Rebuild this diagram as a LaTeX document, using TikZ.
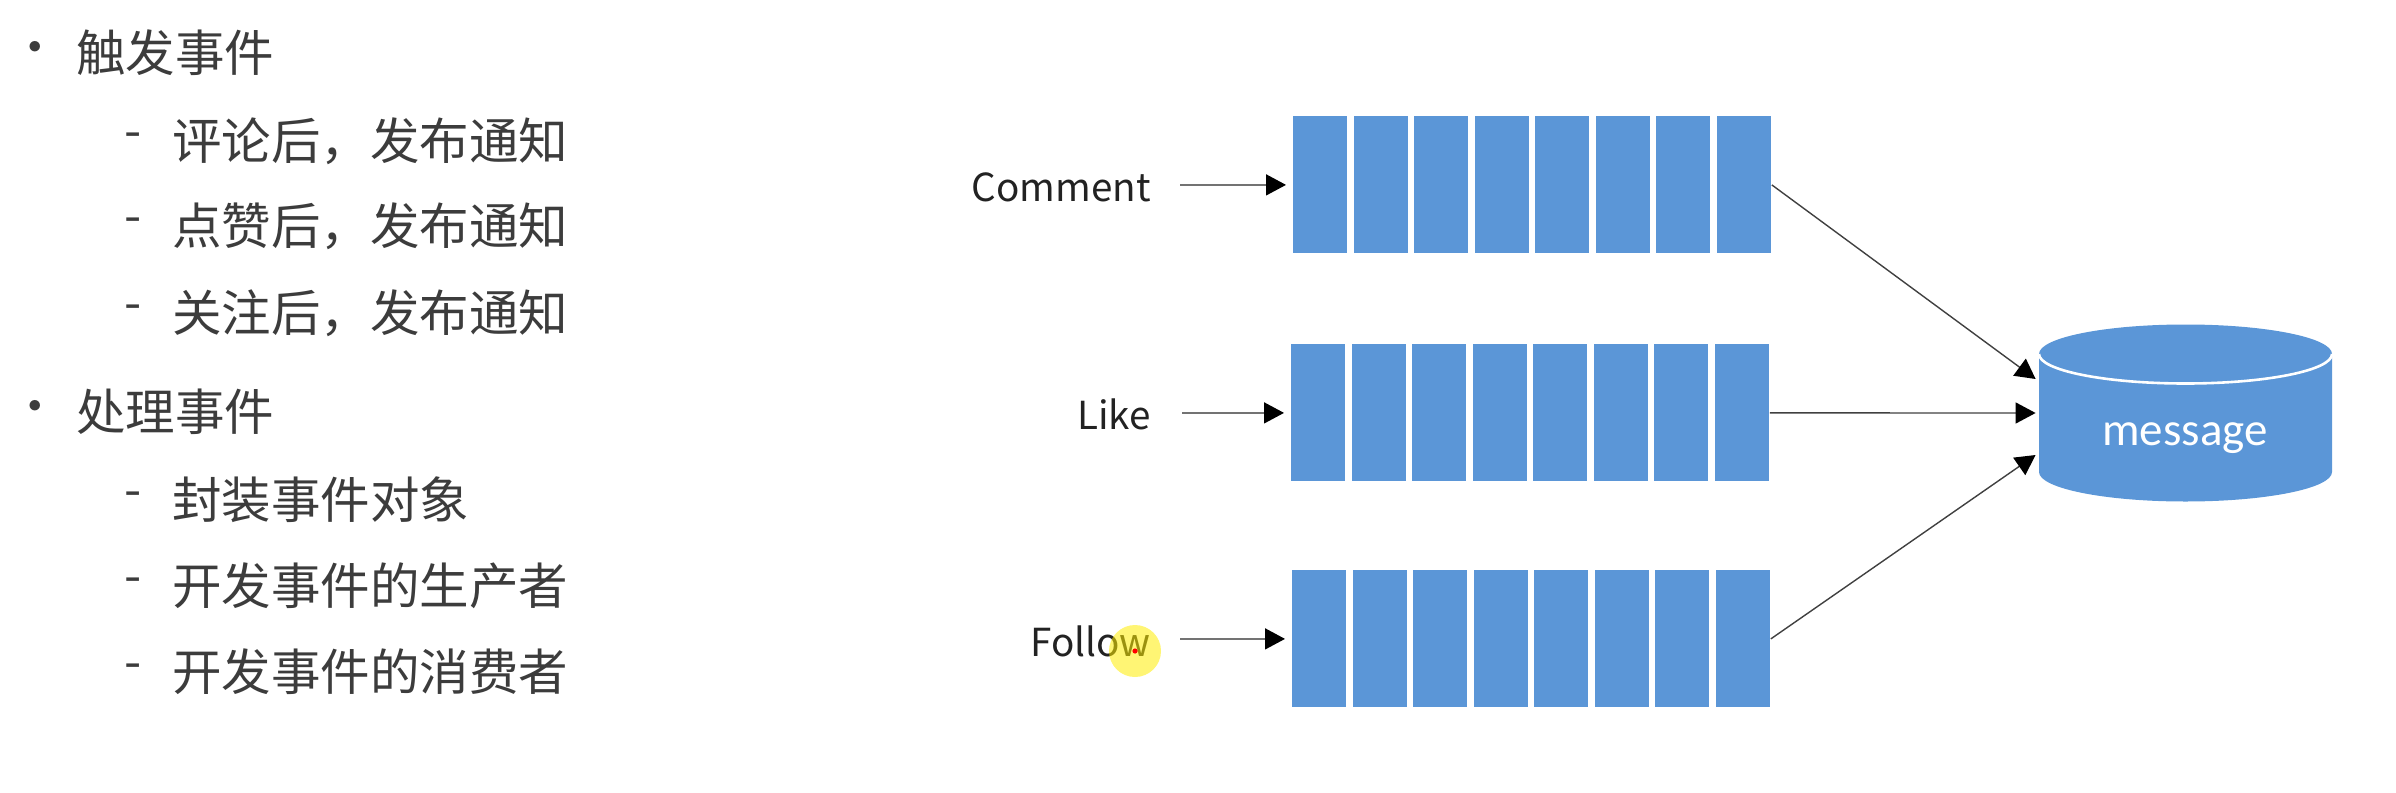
\documentclass[tikz,border=0pt]{standalone}
\usepackage{fontspec}
\setmainfont{Noto Sans CJK SC}
\newfontfamily\cjk{Noto Sans CJK SC}
\newfontfamily\carl{Carlito}
\usetikzlibrary{arrows.meta,calc}
\definecolor{qblue}{HTML}{5B96D7}
\definecolor{txt}{HTML}{3C3C3C}
\definecolor{lbltxt}{HTML}{222222}
\begin{document}
\begin{tikzpicture}[x=0.5pt,y=-0.5pt,
  item/.style={anchor=west, inner sep=0pt, text=txt, font=\cjk\fontsize{24.75pt}{30pt}\selectfont},
  bul/.style={anchor=center, inner sep=0pt, text=txt, font=\cjk\fontsize{24.75pt}{30pt}\selectfont},
  cell/.style={anchor=north west, inner sep=0pt, fill=qblue, draw=none, minimum width=27pt, minimum height=68.5pt},
  queue/.style={anchor=north west, inner sep=0pt, draw=none, minimum width=239pt, minimum height=68.5pt},
  lbl/.style={anchor=east, inner sep=0pt, text=lbltxt, font=\cjk\fontsize{19.3pt}{23pt}\selectfont},
  feed/.style={draw=black!55, line width=0.8pt, -{Triangle[length=10pt,width=10.5pt,color=black]}},
  link/.style={draw=black!75, line width=0.7pt, -{Triangle[length=10pt,width=10.5pt,color=black]}}
]
\useasboundingbox (0,0) rectangle (2396,792);

% left list
\node[bul] (b1) at (35,53) {•};
\node[item] (t1) at (76,53) {触发事件};
\node[bul] (d1) at (133,141) {-};
\node[item] (s1) at (172,141) {评论后，发布通知};
\node[bul] (d2) at (133,226) {-};
\node[item] (s2) at (172,226) {点赞后，发布通知};
\node[bul] (d3) at (133,313) {-};
\node[item] (s3) at (172,313) {关注后，发布通知};
\node[bul] (b2) at (35,412) {•};
\node[item] (t2) at (76,412) {处理事件};
\node[bul] (d4) at (133,500) {-};
\node[item] (s4) at (172,500) {封装事件对象};
\node[bul] (d5) at (133,586) {-};
\node[item] (s5) at (172,586) {开发事件的生产者};
\node[bul] (d6) at (133,672) {-};
\node[item] (s6) at (172,672) {开发事件的消费者};

% queues
\node[queue] (q1) at (1293,116) {};
\node[queue] (q2) at (1291,344) {};
\node[queue] (q3) at (1292,570) {};
\foreach \q/\qx/\qy in {q1/1293/116, q2/1291/344, q3/1292/570}{
  \foreach \i in {0,...,7}{
    \node[cell] (\q c\i) at ({\qx+\i*60.5},\qy) {};
  }
}

% labels
\node[lbl] (cm) at (1151,187) {Comment};
\node[lbl] (lk) at (1151,414) {Like};
\node[lbl] (fw) at (1151,641) {Follow};

\draw[feed, shorten <=14.5pt, shorten >=3.5pt] (cm.east |- q1.west) -- (q1.west);
\draw[feed, shorten <=15.5pt, shorten >=3.5pt] (lk.east |- q2.west) -- (q2.west);
\draw[feed, shorten <=14.5pt, shorten >=3.5pt] (fw.east |- q3.west) -- (q3.west);

% database cylinder
\node[draw=none, inner sep=0pt, minimum width=146.5pt, minimum height=88pt] (db) at (2185.5,413) {};
\fill[qblue] (1019.5pt,-177pt) -- (1019.5pt,-236pt)
  arc[start angle=180, end angle=360, x radius=73.25pt, y radius=14.75pt]
  -- (1166pt,-177pt)
  arc[start angle=0, end angle=180, x radius=73.25pt, y radius=14.75pt] -- cycle;
\draw[white, line width=1.3pt] (1019.5pt,-177pt)
  arc[start angle=180, end angle=360, x radius=73.25pt, y radius=14.75pt];
\node[inner sep=0pt, text=white, font=\carl\fontsize{23.5pt}{28pt}\selectfont] (msg) at (2185,438) {message};

\draw[link] (q1.east) -- ([xshift=-1.5pt,yshift=17pt]db.west);
\draw[link] (q2.east) -- ([xshift=-1.5pt]db.west);
\draw[link] (q3.east) -- ([xshift=-1.5pt,yshift=-21pt]db.west);

% pointer highlight
\fill[yellow!95!orange, opacity=0.55] (1135,651) circle[radius=13pt];
\fill[red] (1135,651) circle[radius=1.3pt];
\end{tikzpicture}
\end{document}
